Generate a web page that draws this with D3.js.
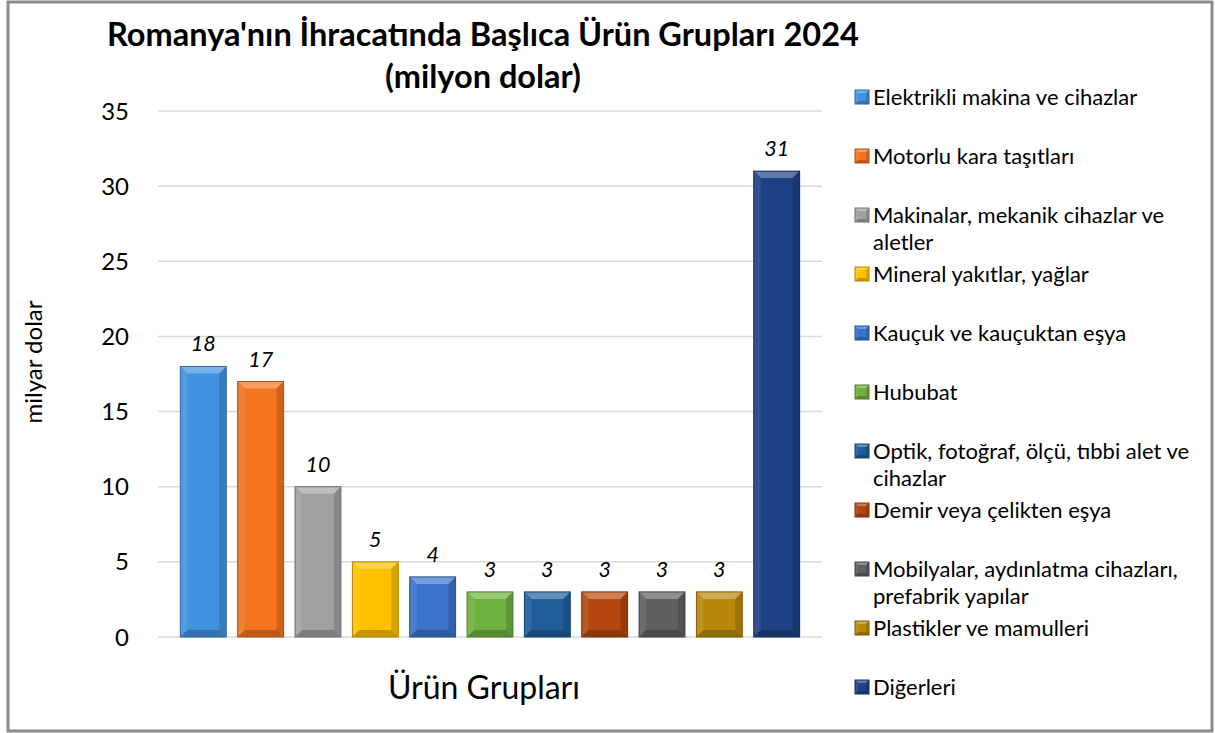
<!DOCTYPE html>
<html>
<head>
<meta charset="utf-8">
<script src="https://cdn.jsdelivr.net/npm/d3@7"></script>
<style>
  body { margin: 0; background: #fff; }
  text { font-family: Lato, "Open Sans", sans-serif; fill: #000; }
</style>
</head>
<body>
<svg id="chart"></svg>
<script>
// Veriler
const kategoriler = [
  "Elektrikli makina ve cihazlar",
  "Motorlu kara taşıtları",
  "Makinalar, mekanik cihazlar ve aletler",
  "Mineral yakıtlar, yağlar",
  "Kauçuk ve kauçuktan eşya",
  "Hububat",
  "Optik, fotoğraf, ölçü, tıbbi alet ve cihazlar",
  "Demir veya çelikten eşya",
  "Mobilyalar, aydınlatma cihazları, prefabrik yapılar",
  "Plastikler ve mamulleri",
  "Diğerleri"
];
const degerler = [18, 17, 10, 5, 4, 3, 3, 3, 3, 3, 31];
const renkler = ["#4193df", "#f47520", "#a0a0a0", "#ffc000", "#3a73c9", "#6fb13e",
                 "#1f5e9a", "#b4470f", "#5f5f5f", "#b8870b", "#1e4185"];
const yTikler = [0, 5, 10, 15, 20, 25, 30, 35];

const W = 1215, H = 733;
const svg = d3.select("#chart").attr("width", W).attr("height", H);

// Dış çerçeve
svg.append("rect")
  .attr("x", 8).attr("y", 2).attr("width", 1204).attr("height", 729)
  .attr("fill", "#fff").attr("stroke", "#8c8c8c").attr("stroke-width", 3);

// Ölçekler
const x = d3.scaleBand()
  .domain(kategoriler)
  .range([158, 822])
  .paddingInner(0.2)
  .paddingOuter(0.39);

const y = d3.scaleLinear()
  .domain([0, 35])
  .range([637, 111]);

// Izgara çizgileri
svg.append("g")
  .selectAll("line")
  .data(yTikler)
  .join("line")
    .attr("x1", 158).attr("x2", 822)
    .attr("y1", d => y(d)).attr("y2", d => y(d))
    .attr("stroke", "#d9d9d9").attr("stroke-width", 1.5);

// Y ekseni etiketleri
svg.append("g")
  .selectAll("text")
  .data(yTikler)
  .join("text")
    .attr("x", 129).attr("y", d => y(d) + 8.5)
    .attr("text-anchor", "end")
    .attr("font-size", 24)
    .text(d => d);

// Renk yardımcıları
const acik = (c, k) => d3.interpolateRgb(c, "#fff")(k);
const koyu = (c, k) => d3.interpolateRgb(c, "#000")(k);

// Eğimli (bevel) kutu çizimi
function bevelKutu(g, x0, y0, w, h, c, b) {
  const x1 = x0 + w, y1 = y0 + h;
  g.append("rect").attr("x", x0).attr("y", y0).attr("width", w).attr("height", h).attr("fill", c);
  const poly = (pts, f) => g.append("polygon").attr("points", pts.map(p => p.join(",")).join(" ")).attr("fill", f);
  poly([[x0, y0], [x1, y0], [x1 - b, y0 + b], [x0 + b, y0 + b]], acik(c, 0.3));
  poly([[x0, y0], [x0 + b, y0 + b], [x0 + b, y1 - b], [x0, y1]], acik(c, 0.08));
  poly([[x1, y0], [x1, y1], [x1 - b, y1 - b], [x1 - b, y0 + b]], koyu(c, 0.15));
  poly([[x0, y1], [x0 + b, y1 - b], [x1 - b, y1 - b], [x1, y1]], koyu(c, 0.22));
  g.append("rect").attr("x", x0).attr("y", y0).attr("width", w).attr("height", h)
    .attr("fill", "none").attr("stroke", koyu(c, 0.3)).attr("stroke-width", 1);
}

// Çubuklar
const cubuklar = svg.append("g");
kategoriler.forEach((k, i) => {
  const g = cubuklar.append("g");
  bevelKutu(g, x(k), y(degerler[i]), x.bandwidth(), y(0) - y(degerler[i]), renkler[i], 7);
});

// Değer etiketleri
svg.append("g")
  .selectAll("text")
  .data(degerler)
  .join("text")
    .attr("x", (d, i) => x(kategoriler[i]) + x.bandwidth() / 2)
    .attr("y", d => y(d) - 15)
    .attr("text-anchor", "middle")
    .attr("font-size", 21.5)
    .attr("font-style", "italic")
    .text(d => d);

// Başlık
svg.append("text")
  .attr("x", 483).attr("y", 46)
  .attr("text-anchor", "middle")
  .attr("font-size", 32.5).attr("font-weight", "bold")
  .text("Romanya'nın İhracatında Başlıca Ürün Grupları 2024");
svg.append("text")
  .attr("x", 483).attr("y", 88)
  .attr("text-anchor", "middle")
  .attr("font-size", 32.5).attr("font-weight", "bold")
  .text("(milyon dolar)");

// Eksen başlıkları
svg.append("text")
  .attr("transform", "translate(42,362) rotate(-90)")
  .attr("text-anchor", "middle")
  .attr("font-size", 24)
  .text("milyar dolar");
svg.append("text")
  .attr("x", 484).attr("y", 699)
  .attr("text-anchor", "middle")
  .attr("font-size", 32)
  .text("Ürün Grupları");

// Açıklama (legend)
const lg = svg.append("g");
const legendY = d3.scalePoint().domain(kategoriler).range([97, 687]);
kategoriler.forEach((k, i) => {
  const cy = legendY(k);
  bevelKutu(lg.append("g"), 855, cy - 7, 14, 14, renkler[i], 3);
  const t = lg.append("text").attr("x", 873).attr("y", cy + 8).attr("font-size", 22);
  const kelimeler = k.split(" ");
  let satir = [], ts = t.append("tspan").attr("x", 873).attr("dy", 0);
  kelimeler.forEach(w => {
    satir.push(w);
    ts.text(satir.join(" "));
    if (ts.node().getComputedTextLength() > 338 && satir.length > 1) {
      satir.pop();
      ts.text(satir.join(" "));
      satir = [w];
      ts = t.append("tspan").attr("x", 873).attr("dy", 27).text(w);
    }
  });
});
</script>
</body>
</html>
